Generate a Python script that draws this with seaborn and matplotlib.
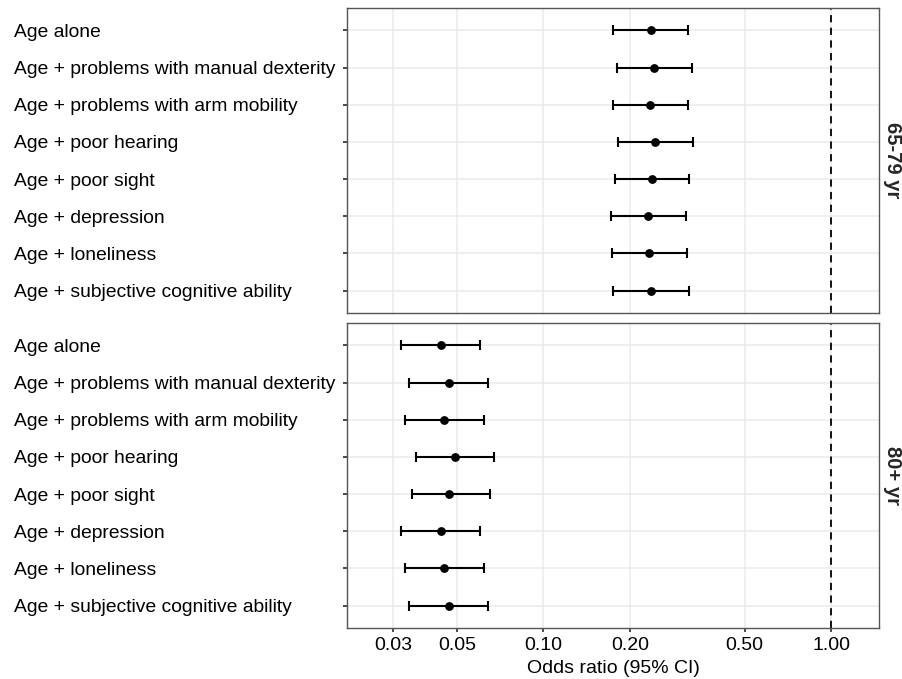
import numpy as np
import pandas as pd
import matplotlib.pyplot as plt
import seaborn as sns

models = ["Age alone",
          "Age + problems with manual dexterity",
          "Age + problems with arm mobility",
          "Age + poor hearing",
          "Age + poor sight",
          "Age + depression",
          "Age + loneliness",
          "Age + subjective cognitive ability"]
groups = ["65-79 yr", "80+ yr"]

# odds ratios and 95% CI
or_65 = [0.236, 0.242, 0.235, 0.245, 0.238, 0.231, 0.233, 0.237]
lo_65 = [0.175, 0.180, 0.175, 0.181, 0.177, 0.172, 0.173, 0.175]
hi_65 = [0.319, 0.327, 0.317, 0.330, 0.321, 0.312, 0.316, 0.320]

or_80 = [0.0440, 0.0470, 0.0451, 0.0491, 0.0470, 0.0440, 0.0451, 0.0470]
lo_80 = [0.0321, 0.0342, 0.0331, 0.0362, 0.0350, 0.0321, 0.0331, 0.0342]
hi_80 = [0.0601, 0.0641, 0.0621, 0.0671, 0.0651, 0.0601, 0.0621, 0.0641]

x_breaks = [0.03, 0.05, 0.10, 0.20, 0.50, 1.00]

df = pd.DataFrame({
    "model": models * 2,
    "group": np.repeat(groups, len(models)),
    "or": or_65 + or_80,
    "lo": lo_65 + lo_80,
    "hi": hi_65 + hi_80,
})

sns.set_theme(style="whitegrid")
plt.rcParams["font.family"] = ["Liberation Sans", "DejaVu Sans"]
fs = 14

fig, axes = plt.subplots(2, 1, figsize=(9.02, 6.79), dpi=100, sharex=True)
fig.subplots_adjust(left=347 / 902, right=879 / 902, top=1 - 8 / 679,
                    bottom=1 - 628 / 679, hspace=10 / 305)

for ax, g in zip(axes, groups):
    d = df[df["group"] == g].reset_index(drop=True)
    pos = np.arange(len(d))
    ax.errorbar(d["or"], pos, xerr=[d["or"] - d["lo"], d["hi"] - d["or"]],
                fmt="none", ecolor="black", elinewidth=1.5, capsize=3.5,
                capthick=1.5, zorder=3)
    sns.scatterplot(data=d, x="or", y="model", color="black", s=40,
                    edgecolor="black", linewidth=0, ax=ax, zorder=4)
    ax.axvline(1, color="black", lw=1.3, ls=(0, (4, 3)), zorder=2)
    ax.set_xscale("log")
    ax.set_xlim(0.02077, 1.465)
    ax.set_ylim(len(d) - 0.4, -0.6)
    ax.set_yticks(pos)
    ax.set_yticklabels(d["model"], fontsize=13.9, color="black")
    for lab in ax.get_yticklabels():
        lab.set_horizontalalignment("left")
    ax.set_ylabel("")
    ax.set_xlabel("")
    ax.grid(True, color="#EBEBEB", lw=1.1)
    ax.minorticks_off()
    for sp in ax.spines.values():
        sp.set_color("#555555")
        sp.set_linewidth(1.0)
    ax.tick_params(axis="y", length=3, color="#333333", pad=(347 - 4 - 14) * 0.72,
                   left=True)
    ax.tick_params(axis="x", length=3, color="#333333", pad=3.5, bottom=True,
                   labelsize=fs, labelcolor="black")
    ax.text(1.026, 0.5, g, transform=ax.transAxes, rotation=270,
            ha="center", va="center", fontsize=14.5, fontweight="bold")

axes[0].tick_params(axis="x", bottom=False)
axes[1].set_xticks(x_breaks)
axes[1].set_xticklabels([f"{b:.2f}" for b in x_breaks])
axes[1].set_xlabel("Odds ratio (95% CI)", fontsize=fs, labelpad=4, color="black")

fig.savefig("out.png", dpi=100)
